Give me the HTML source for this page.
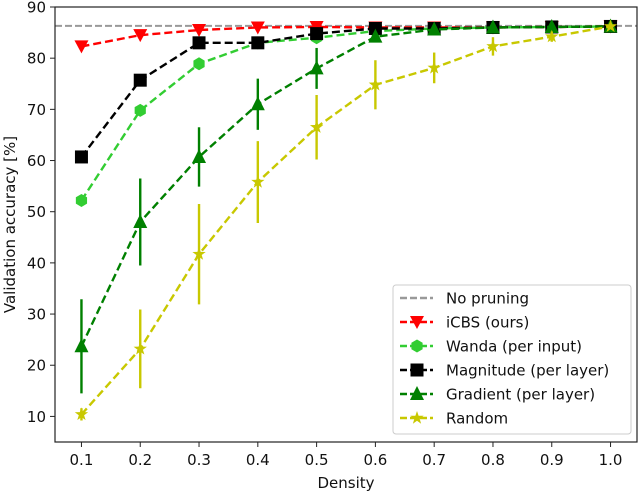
<!DOCTYPE html>
<html><head><meta charset="utf-8"><style>
html,body{margin:0;padding:0;background:#fff}
svg{display:block;font-family:"DejaVu Sans","Liberation Sans",sans-serif}
</style></head><body>
<svg id="chart" width="640" height="492" viewBox="0 0 640 492">
<rect x="0" y="0" width="640" height="492" fill="#fff"/>
<g id="series"></g>
<g id="axes"></g>
<g id="legend"></g>
</svg>
<script>
const densities = [0.1,0.2,0.3,0.4,0.5,0.6,0.7,0.8,0.9,1.0];
const yTicks = [10,20,30,40,50,60,70,80,90];
const xTickLabels = ["0.1","0.2","0.3","0.4","0.5","0.6","0.7","0.8","0.9","1.0"];
const noPruning = 86.3;
const icbsVals = [82.3,84.5,85.5,86.0,86.1,86.0,86.0,86.0,86.1,86.2];
const wandaVals = [52.2,69.8,78.9,83.0,84.0,85.3,85.8,86.0,86.1,86.2];
const magnitudeVals = [60.7,75.7,83.0,83.0,84.8,85.8,85.8,86.0,86.1,86.2];
const gradientVals = [23.7,48.0,60.7,71.0,78.0,84.2,85.6,86.0,86.1,86.2];
const gradientErr = [9.2,8.5,5.8,5.0,4.0,1.0,0.5,0.4,0.3,0.2];
const randomVals = [10.4,23.2,41.7,55.8,66.5,74.8,78.1,82.3,84.2,86.2];
const randomErr = [1.2,7.7,9.8,8.0,6.3,4.8,3.0,1.8,1.0,0.5];

const NS="http://www.w3.org/2000/svg";
const L=55,R=637,T=7,B=442;
const xMin=0.055,xMax=1.045,yMin=5,yMax=90;
const X=v=>L+(v-xMin)/(xMax-xMin)*(R-L);
const Y=v=>B-(v-yMin)/(yMax-yMin)*(B-T);
function mk(tag,attrs,parent){const e=document.createElementNS(NS,tag);for(const k in attrs)e.setAttribute(k,attrs[k]);parent.appendChild(e);return e;}
const series=document.getElementById('series'),axes=document.getElementById('axes'),legend=document.getElementById('legend');

function marker(shape,x,y,color,parent){
  let e;
  if(shape==='vtri'){e=mk('polygon',{points:`${x-7},${y-6} ${x+7},${y-6} ${x},${y+7}`,fill:color},parent);}
  else if(shape==='hex'){e=mk('polygon',{points:`${x},${y-6.5} ${x+5.6},${y-3.2} ${x+5.6},${y+3.2} ${x},${y+6.5} ${x-5.6},${y+3.2} ${x-5.6},${y-3.2}`,fill:color},parent);}
  else if(shape==='sq'){e=mk('rect',{x:x-6.5,y:y-6.5,width:13,height:13,fill:color},parent);}
  else if(shape==='tri'){e=mk('polygon',{points:`${x},${y-8} ${x+7},${y+6} ${x-7},${y+6}`,fill:color},parent);}
  else {let p=[];for(let i=0;i<10;i++){const r=i%2?2.8:7,a=-Math.PI/2+i*Math.PI/5;p.push((x+r*Math.cos(a)).toFixed(1)+','+(y+r*Math.sin(a)).toFixed(1));}
    e=mk('polygon',{points:p.join(' '),fill:color},parent);}
  return e;
}

const np=mk('line',{x1:L,x2:R,y1:Y(noPruning),y2:Y(noPruning),stroke:'#999',"stroke-width":2,"stroke-dasharray":"7,3"},series);



const defs=[
 {name:'icbs',vals:icbsVals,err:null,color:'#ff0000',shape:'vtri',label:'iCBS (ours)'},
 {name:'wanda',vals:wandaVals,err:null,color:'#32cd32',shape:'hex',label:'Wanda (per input)'},
 {name:'magnitude',vals:magnitudeVals,err:null,color:'#000',shape:'sq',label:'Magnitude (per layer)'},
 {name:'gradient',vals:gradientVals,err:gradientErr,color:'#008000',shape:'tri',label:'Gradient (per layer)'},
 {name:'random',vals:randomVals,err:randomErr,color:'#c8c800',shape:'star',label:'Random'}
];
defs.forEach(d=>{
  const g=mk('g',{},series);
  
  
  if(d.err){d.vals.forEach((v,i)=>{const el=mk('line',{x1:X(densities[i]),x2:X(densities[i]),y1:Y(v-d.err[i]),y2:Y(v+d.err[i]),stroke:d.color,"stroke-width":2.4},g);
    
    });}
  const pl=mk('polyline',{points:d.vals.map((v,i)=>X(densities[i])+','+Y(v)).join(' '),fill:'none',stroke:d.color,"stroke-width":2.4,"stroke-dasharray":"8,4"},g);
  
  
  d.vals.forEach((v,i)=>{const m=marker(d.shape,X(densities[i]),Y(v),d.color,g);
    
    });
});

const fr=mk('rect',{x:L,y:T,width:R-L,height:B-T,fill:'none',stroke:'#222',"stroke-width":1.2},axes);


yTicks.forEach(t=>{const y=Y(t);mk('line',{x1:L-5,x2:L,y1:y,y2:y,stroke:'#222'},axes);
  const tx=mk('text',{x:L-9,y:y+5.5,"text-anchor":"end","font-size":15,fill:'#111'},axes);tx.textContent=t;
  
  });
densities.forEach((d,i)=>{const x=X(d);mk('line',{x1:x,x2:x,y1:B,y2:B+5,stroke:'#222'},axes);
  const tx=mk('text',{x:x,y:B+23,"text-anchor":"middle","font-size":15,fill:'#111'},axes);tx.textContent=xTickLabels[i];
  
  });
const xt=mk('text',{x:(L+R)/2,y:488,"text-anchor":"middle","font-size":15,fill:'#111'},axes);xt.textContent='Density';


const yt=mk('text',{x:0,y:0,"text-anchor":"middle","font-size":15,fill:'#111',transform:`translate(15,${(T+B)/2}) rotate(-90)`},axes);yt.textContent='Validation accuracy [%]';



const lb=mk('rect',{x:393,y:285,width:238,height:149,rx:3,fill:'#fff',stroke:'#ccc',"stroke-width":1},legend);


const entries=[{color:'#999',shape:null,label:'No pruning',name:'no-pruning'}].concat(defs);
entries.forEach((e,i)=>{const y=298+i*24;const g=mk('g',{},legend);
  
  
  mk('line',{x1:400,x2:433,y1:y,y2:y,stroke:e.color,"stroke-width":2.4,"stroke-dasharray":"7,3"},g);
  if(e.shape)marker(e.shape,417,y,e.color,g);
  const t=mk('text',{x:446,y:y+5.5,"font-size":15,fill:'#111'},g);t.textContent=e.label;});
</script>
</body></html>
